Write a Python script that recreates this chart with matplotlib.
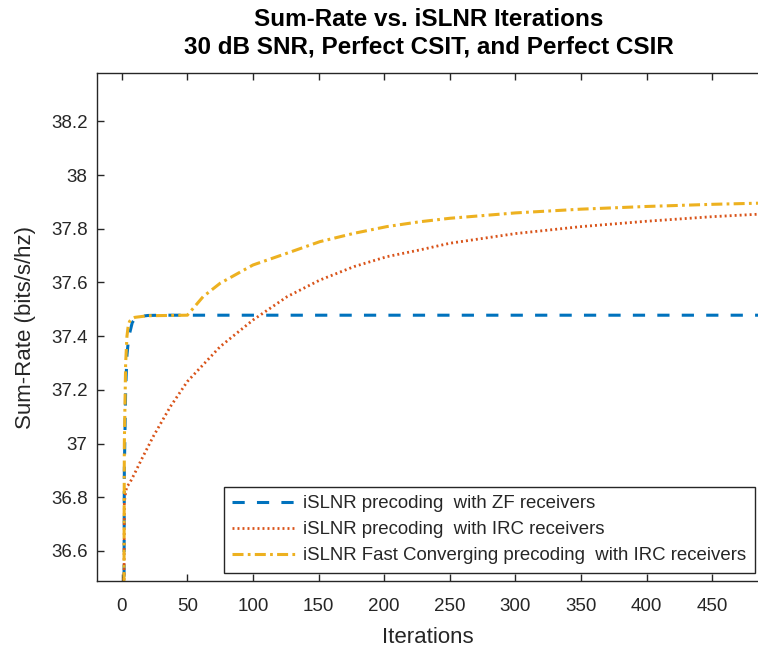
import numpy as np
import matplotlib.pyplot as plt

plt.rcParams['font.family'] = ['Liberation Sans', 'DejaVu Sans']

# iSLNR precoding with ZF receivers
zf_iter = [1, 2, 3, 4, 5, 6, 7, 8, 10, 15, 20, 30, 50, 100, 200, 300, 400, 500]
zf_rate = [35.0, 36.9, 37.2, 37.33, 37.38, 37.41, 37.43, 37.45, 37.465, 37.474, 37.477,
           37.478, 37.478, 37.478, 37.478, 37.478, 37.478, 37.478]

# iSLNR precoding with IRC receivers
irc_iter = [1, 2, 3, 4, 6, 10, 15, 24, 37, 50, 75, 100, 126, 151, 177, 202, 227, 250,
            300, 350, 400, 450, 500]
irc_rate = [35.5, 36.78, 36.82, 36.84, 36.852, 36.89, 36.94, 37.026, 37.137, 37.231,
            37.361, 37.46, 37.547, 37.609, 37.659, 37.696, 37.721, 37.746,
            37.782, 37.808, 37.828, 37.845, 37.858]

# iSLNR Fast Converging precoding with IRC receivers
fc_iter = [1, 2, 3, 4, 5, 6, 8, 10, 20, 50, 62, 75, 100, 126, 151, 177, 202, 227, 250,
           300, 350, 400, 450, 500]
fc_rate = [35.0, 37.0, 37.3, 37.4, 37.44, 37.455, 37.465, 37.47, 37.476, 37.478,
           37.547, 37.597, 37.665, 37.709, 37.752, 37.783, 37.808, 37.826, 37.839,
           37.859, 37.873, 37.883, 37.891, 37.897]

labels = ["iSLNR precoding  with ZF receivers",
          "iSLNR precoding  with IRC receivers",
          "iSLNR Fast Converging precoding  with IRC receivers"]

W, H = 758, 649
fig = plt.figure(figsize=(W / 100, H / 100), dpi=100)
ax = fig.add_axes([97.3 / W, 1 - 581 / H, 1 - 97.3 / W, (581 - 73.3) / H])

ax.plot(zf_iter, zf_rate, color="#0072BD", lw=2.2, ls=(0, (4, 4)), label=labels[0])
ax.plot(irc_iter, irc_rate, color="#D95319", lw=2.0, ls=(0, (0.7, 1.1)), label=labels[1])
ax.plot(fc_iter, fc_rate, color="#EDB120", lw=2.2, ls=(0, (3.6, 1.4, 0.9, 1.4)), label=labels[2])

ax.set_xlim(-18.6, 484.8)
ax.set_ylim(36.488, 38.379)
ax.set_xticks(np.arange(0, 451, 50))
ax.set_yticks([36.6, 36.8, 37.0, 37.2, 37.4, 37.6, 37.8, 38.0, 38.2])
ax.set_yticklabels(["36.6", "36.8", "37", "37.2", "37.4", "37.6", "37.8", "38", "38.2"])

ax.tick_params(direction="in", length=5, width=1, colors="#262626", labelsize=13.5,
               top=True)
ax.tick_params(axis="x", pad=12)
ax.tick_params(axis="y", pad=7)
for s in ["left", "bottom", "top"]:
    ax.spines[s].set_color("#262626")
    ax.spines[s].set_linewidth(1)
ax.spines["right"].set_visible(False)

ax.set_xlabel("Iterations", fontsize=16, color="#262626", labelpad=9)
ax.set_ylabel("Sum-Rate (bits/s/hz)", fontsize=16, color="#262626", labelpad=11)

fig.text(429 / W, 1 - 33 / H, "Sum-Rate vs. iSLNR Iterations\n30 dB SNR, Perfect CSIT, and Perfect CSIR",
         ha="center", va="center", fontsize=17.5, fontweight="bold", linespacing=1.25)

leg = ax.legend(loc="upper left", bbox_to_anchor=(224 / W, 1 - 487 / H),
                bbox_transform=fig.transFigure, fontsize=13.4, frameon=True,
                fancybox=False, handlelength=3.45, handletextpad=0.35,
                borderpad=0.45, labelspacing=0.48, borderaxespad=0)
leg.get_frame().set_edgecolor("#262626")
leg.get_frame().set_linewidth(1)
leg.get_frame().set_alpha(1)
for t in leg.get_texts():
    t.set_color("#262626")

fig.savefig("out.png", dpi=100)
